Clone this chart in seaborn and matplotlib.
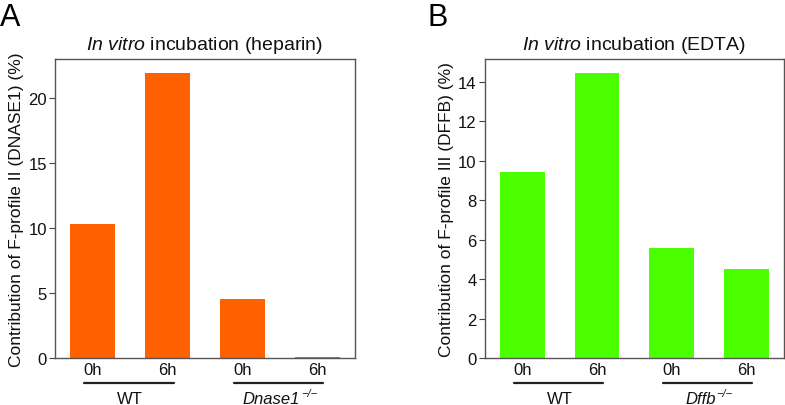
import matplotlib
matplotlib.use("Agg")
import matplotlib.pyplot as plt
import seaborn as sns
import pandas as pd

sns.set_theme(style="white")
plt.rcParams['font.family'] = ['Liberation Sans', 'DejaVu Sans']
plt.rcParams['mathtext.fontset'] = 'custom'
plt.rcParams['mathtext.rm'] = 'Liberation Sans'
plt.rcParams['mathtext.it'] = 'Liberation Sans:italic'
plt.rcParams['mathtext.bf'] = 'Liberation Sans:bold'

tick_labels = ["0h", "6h", "0h", "6h"]
conditions = ["WT 0h", "WT 6h", "KO 0h", "KO 6h"]
values_a = [10.3, 21.9, 4.5, 0.1]
values_b = [9.44, 14.44, 5.57, 4.51]
groups_a = ["WT", "Dnase1"]
groups_b = ["WT", "Dffb"]

color_a = "#FF6000"
color_b = "#4CFF00"

fig = plt.figure(figsize=(7.85, 4.06), dpi=100)
axA = fig.add_axes([55.3 / 785, 47 / 406, 299.4 / 785, 299 / 406])
axB = fig.add_axes([485 / 785, 47 / 406, 298.5 / 785, 299 / 406])

LABEL_Y = -0.152
pending = []


def panel(ax, vals, color, title_rest, ylabel, grp2, yticks):
    df = pd.DataFrame({"cond": conditions, "val": vals})
    sns.barplot(data=df, x="cond", y="val", color=color, width=0.6,
                saturation=1, ax=ax, edgecolor="none")
    ax.set_xlim(-0.5, 3.5)
    ax.set_ylim(0, max(vals) * 1.05)
    ax.set_yticks(yticks)
    ax.set_xticks(range(4))
    ax.set_xticklabels(tick_labels)
    ax.tick_params(axis="x", length=0, pad=3, labelsize=12, colors="#111111")
    ax.tick_params(axis="y", length=4, width=0.8, left=True, pad=2,
                   labelsize=12, colors="#111111", color="#444444")
    for s in ax.spines.values():
        s.set_color("#555555")
        s.set_linewidth(1.0)
    ax.set_xlabel("")
    ax.set_ylabel(ylabel, fontsize=12.5, color="#111111", labelpad=3)
    ax.set_title(r"$\it{In\ vitro}$ " + title_rest, fontsize=14, pad=7,
                 color="#111111")
    trans = ax.get_xaxis_transform()
    ax.plot([-0.11, 1.08], [-0.082, -0.082], color="#222222", lw=1.6,
            transform=trans, clip_on=False)
    ax.plot([1.89, 3.08], [-0.082, -0.082], color="#222222", lw=1.6,
            transform=trans, clip_on=False)
    ax.text(0.5, LABEL_Y, "WT", transform=trans, ha="center", va="baseline",
            fontsize=12, color="#111111")
    main = ax.text(2.5, LABEL_Y, grp2, transform=trans, ha="left",
                   va="baseline", fontsize=12, style="italic", color="#111111")
    sup = ax.annotate("\u2212/\u2212", xy=(2.5, LABEL_Y), xycoords=trans,
                      xytext=(0, 5.5), textcoords="offset points", ha="left",
                      va="baseline", fontsize=8, style="italic",
                      color="#111111", annotation_clip=False)
    pending.append((ax, main, sup))


panel(axA, values_a, color_a, "incubation (heparin)",
      "Contribution of F-profile II (DNASE1) (%)", groups_a[1], [0, 5, 10, 15, 20])
panel(axB, values_b, color_b, "incubation (EDTA)",
      "Contribution of F-profile III (DFFB) (%)", groups_b[1], [0, 2, 4, 6, 8, 10, 12, 14])

fig.text(0 / 785, 1 - 18 / 406, "A", fontsize=22, va="center", ha="left", color="black")
fig.text(427 / 785, 1 - 18 / 406, "B", fontsize=22, va="center", ha="left", color="black")

# center the italic genotype label + superscript under its group line
fig.canvas.draw()
renderer = fig.canvas.get_renderer()
for ax, main, sup in pending:
    wm = main.get_window_extent(renderer).width
    ws = sup.get_window_extent(renderer).width
    gap = 1.0
    cx = ax.transData.transform((2.5, 0))[0]
    left = cx - (wm + gap + ws) / 2
    x_main = ax.transData.inverted().transform((left, 0))[0]
    x_sup = ax.transData.inverted().transform((left + wm + gap, 0))[0]
    main.set_x(x_main)
    sup.xy = (x_sup, LABEL_Y)

fig.savefig("out.png", dpi=100)
